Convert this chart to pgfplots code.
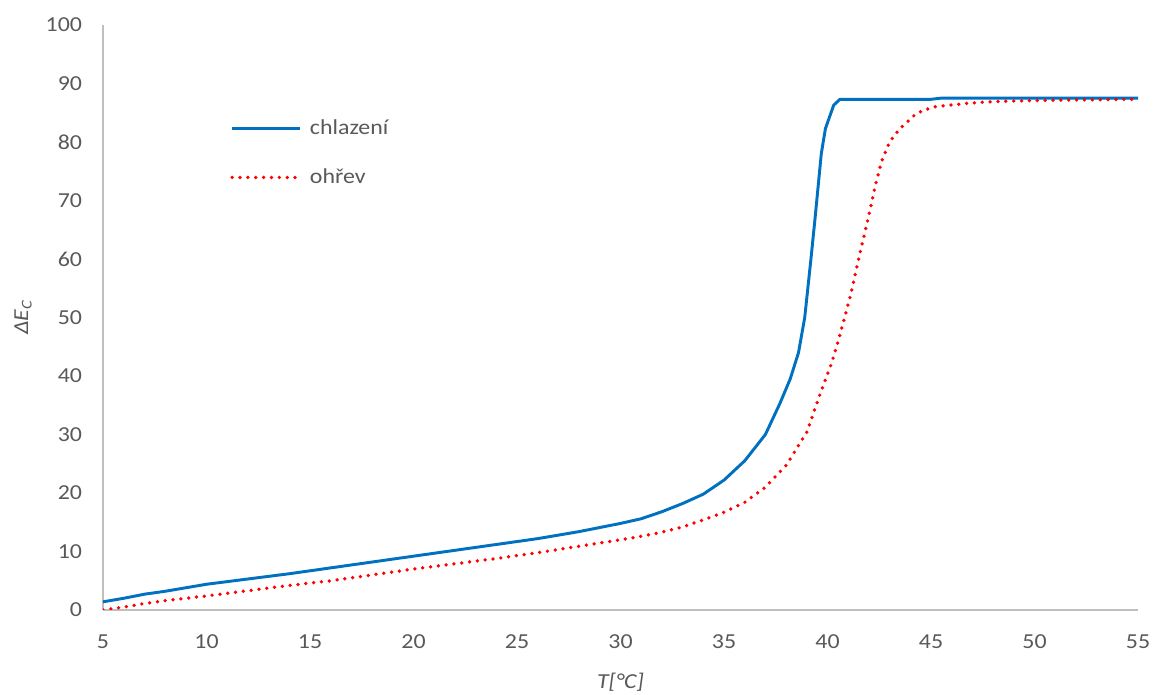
\documentclass[border=0pt]{standalone}
\usepackage{pgfplots}
\pgfplotsset{compat=1.18}
\usepackage{fontspec}
\setmainfont{Carlito}[FakeStretch=1.12]
\definecolor{xlblue}{RGB}{0,112,192}
\definecolor{xlgray}{RGB}{89,89,89}
\definecolor{axgray}{RGB}{191,191,191}
\begin{document}
\begin{tikzpicture}
\fontsize{16}{19}\selectfont
\begin{axis}[
  at={(0,0)}, anchor=south west,
  scale only axis,
  width=776.25pt, height=438.75pt,
  xmin=5, xmax=55, ymin=0, ymax=100,
  xtick={5,10,...,55}, ytick={0,10,...,100},
  axis x line=bottom, axis y line=left,
  axis line style={-, draw=axgray, line width=1.1pt},
  major tick length=0pt,
  /pgf/number format/assume math mode=true,
  ticklabel style={font=\fontsize{16}{19}\selectfont, text=xlgray, inner sep=0pt},
  yticklabel style={anchor=east, xshift=-15.5pt},
  xticklabel style={anchor=north, yshift=-18.5pt},
  xlabel={\textit{T[°C]}},
  ylabel={\textit{ΔE\textsubscript{C}}},
  label style={font=\fontsize{16}{19}\selectfont, text=xlgray},
  xlabel style={at={(axis description cs:0.5,0)}, anchor=center, yshift=-54pt, inner sep=0pt},
  ylabel style={at={(axis description cs:0,0.5)}, anchor=center, yshift=60pt, inner sep=0pt},
  legend cell align=left,
  legend style={draw=none, fill=none, at={(0.1227,0.781)}, anchor=west, inner sep=0pt,
    font=\fontsize{16}{19}\selectfont, text=xlgray, row sep=23pt,
    nodes={inner sep=0pt},
    /tikz/every odd column/.append style={column sep=6pt}},
  legend image code/.code={\draw[#1] (0pt,0pt) -- (51pt,0pt);},
]
\addplot[xlblue, line width=2.2pt, line join=round] coordinates {
(5,1.4) (6,2.0) (7,2.7) (8,3.2) (9,3.8) (10,4.4) (12,5.3) (14,6.2) (16,7.2)
(18,8.2) (20,9.2) (22,10.2) (24,11.2) (26,12.2) (28,13.4) (29,14.1) (30,14.8)
(31,15.6) (32,16.8) (33,18.2) (34,19.8) (35,22.2) (36,25.5) (37,30.0) (37.7,35.3)
(38.2,39.5) (38.6,44) (38.9,50) (39.2,60) (39.4,67) (39.55,72.5) (39.7,78)
(39.9,82.3) (40.3,86.3) (40.6,87.3) (45,87.3) (45.5,87.5) (55,87.5)
};
\addlegendentry{chlazení}
\addplot[red, line width=2.8pt, line cap=round, dash pattern=on 0pt off 5.9pt] coordinates {
(5,0) (6,0.5) (7,1.1) (8,1.6) (10,2.4) (12,3.3) (14,4.2) (16,5.0) (18,6.0)
(20,7.0) (22,7.9) (24,8.8) (26,9.8) (28,10.9) (30,12.0) (31,12.6) (32,13.3)
(33,14.2) (34,15.4) (35,16.7) (36,18.4) (37,21.0) (38,24.7) (39,30.4) (39.65,37)
(40.2,42.2) (40.6,47) (41.1,53.6) (41.6,61.5) (42,67.5) (42.3,72.4) (42.6,76.6)
(43,80) (43.5,82.3) (44.3,84.9) (45.1,86) (46.7,86.6) (48,86.9) (50,87.1) (55,87.3)
};
\addlegendentry{ohřev}
\end{axis}
\path[use as bounding box] (-77.25pt,-63.75pt) rectangle (789.75pt,457.5pt);
\end{tikzpicture}
\end{document}
